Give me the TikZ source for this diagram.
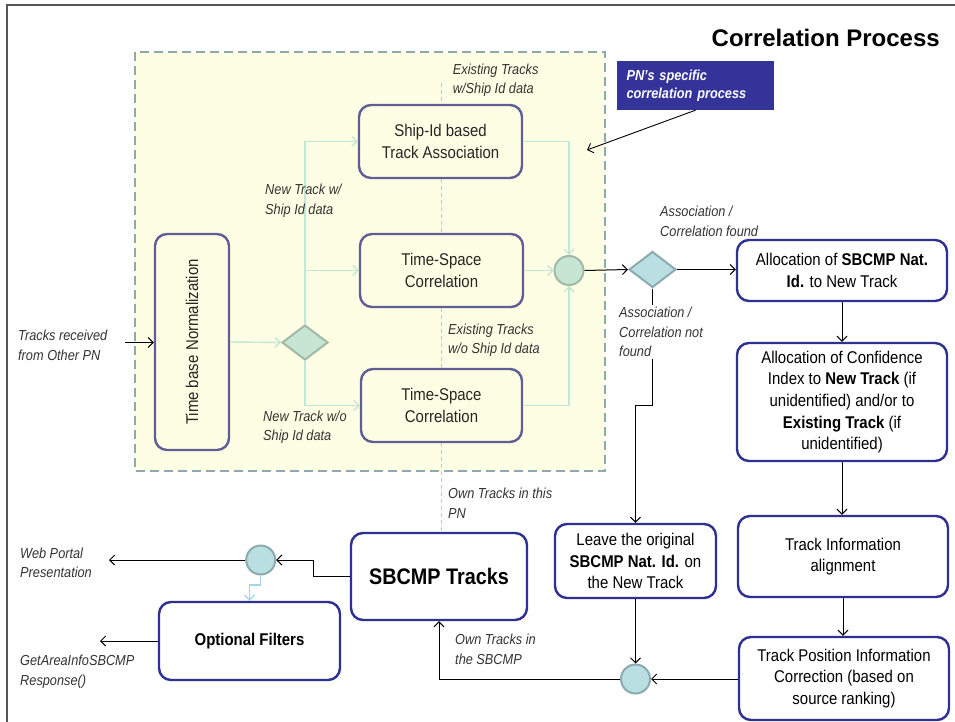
\documentclass[tikz,border=0pt]{standalone}
\usepackage{fontspec}
\setmainfont{Liberation Sans}[FakeStretch=0.88]
\newfontfamily\titlefont{Liberation Sans}
\usetikzlibrary{arrows.meta,shapes.geometric,calc}
\definecolor{cream}{HTML}{FEFEE4}
\definecolor{dashc}{HTML}{8FAAAD}
\definecolor{innerc}{HTML}{5F5F96}
\definecolor{outerc}{HTML}{2E3192}
\definecolor{greenf}{HTML}{C6E5D3}
\definecolor{greenb}{HTML}{9FB9A6}
\definecolor{tealf}{HTML}{B9DFE3}
\definecolor{tealb}{HTML}{8DAAAE}
\definecolor{gline}{HTML}{C4E6D4}
\definecolor{bline}{HTML}{A5D5E5}
\definecolor{pnblue}{HTML}{333399}
\definecolor{labc}{HTML}{333333}
\definecolor{framec}{HTML}{555555}
\newcommand\bodyfs{\fontsize{17}{21.7}\selectfont}
\newcommand\labfs{\fontsize{14.5}{19.5}\selectfont\itshape}
\begin{document}
\begin{tikzpicture}[x=1pt,y=-1pt,
  ibox/.style={draw=innerc, line width=2.4pt, rounded corners=12pt, fill=cream, align=center, font=\bodyfs, text=black!85, inner sep=0pt},
  obox/.style={draw=outerc, line width=2.4pt, rounded corners=12pt, fill=white, align=center, font=\bodyfs, inner sep=0pt},
  lab/.style={font=\labfs, text=labc, align=left, anchor=west, inner sep=0pt},
  garrow/.style={draw=gline, line width=1.4pt, -{Straight Barb[length=5pt,width=10pt]}},
  karrow/.style={draw=black, line width=1pt, -{Straight Barb[length=5pt,width=10pt]}},
  barrow/.style={draw=bline, line width=1.2pt, -{Straight Barb[length=5pt,width=10pt]}},
  bdash/.style={draw=bline, line width=0.9pt, dash pattern=on 4pt off 3pt},
  gdia/.style={shape=diamond, draw=greenb, fill=greenf, line width=2pt, inner sep=0pt},
  tdia/.style={shape=diamond, draw=tealb, fill=tealf, line width=2pt, inner sep=0pt},
  gcirc/.style={circle, draw=greenb, fill=greenf, line width=2pt, inner sep=0pt, minimum size=29pt},
  tcirc/.style={circle, draw=tealb, fill=tealf, line width=2pt, inner sep=0pt, minimum size=29pt}]
\useasboundingbox (0,0) rectangle (955,722);
\fill[white] (0,0) rectangle (955,722);
% frame
\draw[framec, line width=2pt] (7,722) -- (7,5) -- (955,5);
% title
\node[font=\titlefont\fontsize{24}{27}\selectfont\bfseries, anchor=east, inner sep=0pt] (title) at (940,38) {Correlation Process};
% yellow region
\draw[dashc, fill=cream, line width=2.6pt, dash pattern=on 9pt off 5pt] (135,52) rectangle (605,471);
% inner boxes
\node[ibox, minimum width=163pt, minimum height=73pt] (shipid) at (440.5,141.5) {Ship-Id based\\Track Association};
\node[ibox, minimum width=163pt, minimum height=73pt] (tsc1) at (441.5,270.5) {Time-Space\\Correlation};
\node[ibox, minimum width=161pt, minimum height=73pt] (tsc2) at (441.5,405.5) {Time-Space\\Correlation};
\node[ibox, minimum width=74pt, minimum height=216pt] (tbn) at (192,342) {};
\node[rotate=90, font=\bodyfs, text=black!85, inner sep=0pt] (tbntext) at (tbn.center) {Time base\hspace{5pt}Normalization};
\node[gdia, minimum width=46pt, minimum height=35pt] (dia1) at (305,342.5) {};
\node[gcirc] (circ1) at (569,270.5) {};
% green connectors
\draw[garrow] (tbn.east) -- (dia1.west);
\draw[garrow] (dia1.north) |- (shipid.west);
\draw[garrow] (dia1.north |- tsc1.west) -- (tsc1.west);
\draw[garrow] (dia1.south) |- (tsc2.west);
\draw[garrow] (shipid.east) -| (circ1.north);
\draw[garrow] (tsc1.east) -- (circ1.west);
\draw[garrow] (tsc2.east) -| (circ1.south);
% inner labels
\node[lab] (exist1) at (452.7,80.3) {Existing Tracks\\w/Ship Id data};
\node[lab] (newws) at (265,200.7) {New Track w/\\Ship Id data};
\node[lab] (exist2) at (448,340) {Existing Tracks\\w/o Ship Id data};
\node[lab] (newwo) at (263,427) {New Track w/o\\Ship Id data};
% outer boxes
\node[tdia, minimum width=47pt, minimum height=36pt] (dia2) at (652.5,269.5) {};
\node[obox, minimum width=210pt, minimum height=61pt] (alloc) at (842,270.5) {Allocation of \textbf{SBCMP Nat.}\\\textbf{Id.} to New Track};
\node[obox, minimum width=210pt, minimum height=118pt] (conf) at (842,402) {Allocation of Confidence\\Index to \textbf{New Track} (if\\unidentified) and/or to\\\textbf{Existing Track} (if\\unidentified)};
\node[obox, minimum width=210pt, minimum height=81pt] (info) at (843,556.5) {Track Information\\alignment};
\node[obox, minimum width=210pt, minimum height=83pt] (pos) at (844,678.5) {Track Position Information\\Correction (based on\\source ranking)};
\node[obox, minimum width=161pt, minimum height=74pt] (leave) at (635.5,561) {Leave the original\\\textbf{SBCMP Nat. Id.} on\\the New Track};
\node[tcirc] (circ3) at (635.5,679) {};
\node[obox, minimum width=176pt, minimum height=87pt, font=\fontsize{22.5}{26}\selectfont\bfseries] (sbcmp) at (439,576.5) {SBCMP Tracks};
\node[tcirc] (circ2) at (260.7,560) {};
\node[obox, minimum width=181pt, minimum height=78pt, font=\bodyfs\bfseries] (filt) at (249.5,641) {Optional Filters};
\node[fill=pnblue, minimum height=49pt, text width=138pt, inner xsep=9.5pt, inner ysep=0pt, align=left, text=white, font=\fontsize{14.5}{18.3}\selectfont\bfseries\itshape] (pnbox) at (695.5,85.5) {PN’s specific\\correlation process};
% dashed blue vertical
\coordinate (etop) at (441,83);
\draw[bdash] (etop) -- (etop |- shipid.north);
\draw[bdash] (etop |- shipid.south) -- (etop |- tsc1.north);
\draw[bdash] (etop |- tsc1.south) -- (etop |- tsc2.north);
\draw[bdash] (etop |- tsc2.south) -- (etop |- sbcmp.north);
% black connectors
\coordinate (pnend) at (587,150);
\draw[karrow, line width=0.9pt] (pnbox.south) -- (pnend);
\coordinate (trin) at (125,342.5);
\draw[karrow] (trin) -- (tbn.west |- trin);
\draw[karrow] (circ1.east) -- (dia2.west);
\draw[karrow] (dia2.east) -- (alloc.west |- dia2.east);
\draw[karrow] (alloc.south) -- (conf.north);
\draw[karrow] (conf.south) -- (info.north -| conf.south);
\draw[karrow] (info.south) -- (pos.north -| info.south);
\draw[karrow] (pos.west |- circ3.east) -- (circ3.east);
\draw[karrow] (leave.south) -- (circ3.north);
\coordinate (jog) at (652.5,405);
\draw[karrow] (dia2.south) -- (jog) -- (jog -| leave.north) -- (leave.north);
\draw[karrow] (circ3.west) -| (sbcmp.south);
\coordinate (sbj) at (313.6,576.5);
\draw[karrow] (sbcmp.west) -- (sbj) |- (circ2.east);
\coordinate (webend) at (109,560);
\draw[karrow] (circ2.west) -- (webend);
\coordinate (filtj) at (260.7,585);
\draw[barrow] (circ2.south) -- (filtj) -| (filt.north);
\coordinate (getend) at (100,641);
\draw[karrow] (filt.west) -- (getend);
% outer labels
\node[lab, fill=white, inner sep=2pt] (assocnot) at (617,332) {Association /\\Correlation not\\found};
\node[lab] (assocfound) at (660,221.5) {Association /\\Correlation found};
\node[lab] (tracksrec) at (18,345.3) {Tracks received\\from Other PN};
\node[lab] (ownpn) at (448,503) {Own Tracks in this\\PN};
\node[lab] (webportal) at (20,563) {Web Portal\\Presentation};
\node[lab] (getarea) at (20,671.5) {GetAreaInfoSBCMP\\Response()};
\node[lab] (ownsb) at (455,649.5) {Own Tracks in\\the SBCMP};
\end{tikzpicture}
\end{document}
